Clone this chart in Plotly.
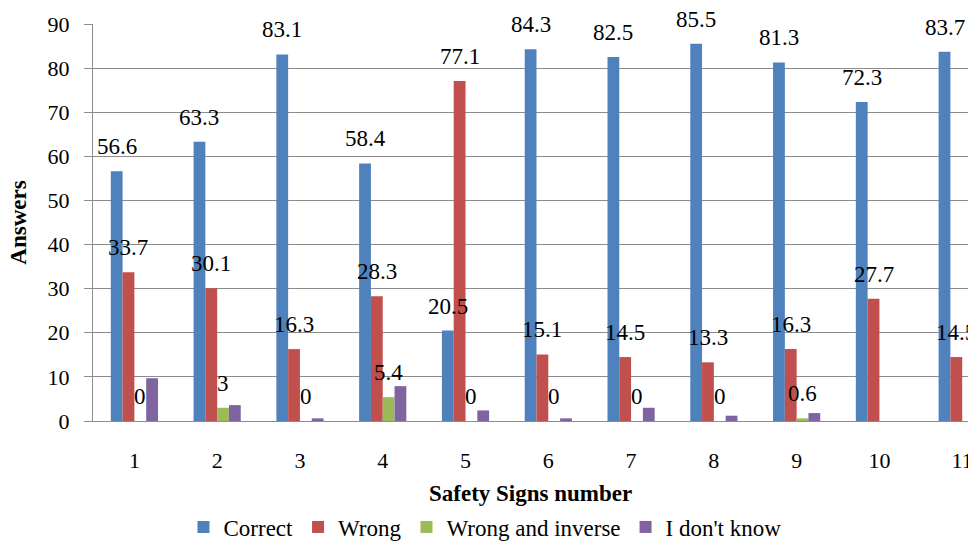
import plotly.graph_objects as go

categories = [1, 2, 3, 4, 5, 6, 7, 8, 9, 10, 11]
tick_labels = ["1", "2", "3", "4", "5", "6", "7", "8", "9", "10", "11"]
correct = [56.6, 63.3, 83.1, 58.4, 20.5, 84.3, 82.5, 85.5, 81.3, 72.3, 83.7]
wrong = [33.7, 30.1, 16.3, 28.3, 77.1, 15.1, 14.5, 13.3, 16.3, 27.7, 14.5]
wrong_inverse = [0, 3, 0, 5.4, 0, 0, 0, 0, 0.6, None, 0]
dont_know = [9.7, 3.6, 0.6, 7.9, 2.4, 0.6, 3.0, 1.2, 1.8, None, 1.8]

series_names = ["Correct", "Wrong", "Wrong and inverse", "I don't know"]
series_values = [correct, wrong, wrong_inverse, dont_know]
series_colors = ["#4F81BD", "#C0504D", "#9BBB59", "#8064A2"]
labelled = [True, True, True, False]

FONT = "Times New Roman, Liberation Serif, serif"
bargap = 0.43

fig = go.Figure()
for name, vals, col in zip(series_names, series_values, series_colors):
    fig.add_trace(go.Bar(x=categories, y=vals, name=name, marker_color=col,
                         marker_line_width=0))

w = (1 - bargap) / len(series_names)
for k, (vals, lab) in enumerate(zip(series_values, labelled)):
    if not lab:
        continue
    for c, v in zip(categories, vals):
        if v is None:
            continue
        fig.add_annotation(x=c + (k - 1.5) * w, y=v, text=f"{v:g}", showarrow=False,
                           xanchor="center", yanchor="bottom", yshift=10,
                           font=dict(family=FONT, size=23, color="#000"))

# x-axis title
fig.add_annotation(xref="paper", yref="paper", x=0.5, y=0, yshift=-72,
                   text="<b>Safety Signs number</b>", showarrow=False,
                   xanchor="center", yanchor="middle",
                   font=dict(family=FONT, size=23, color="#000"))

fig.update_layout(
    width=968, height=541,
    margin=dict(l=93, r=0, t=24, b=120, autoexpand=False),
    paper_bgcolor="white", plot_bgcolor="white",
    barmode="group", bargap=bargap, bargroupgap=0,
    font=dict(family=FONT, size=22, color="#000"),
    legend=dict(orientation="h", xref="container", x=0.501, xanchor="center",
                yref="paper", y=-0.267, yanchor="middle",
                font=dict(family=FONT, size=23), itemwidth=30, tracegroupgap=0),
    xaxis=dict(range=[0.5, 11.07], tickmode="array", tickvals=categories,
               ticktext=tick_labels, showgrid=False, showline=True,
               linecolor="#8c8c8c", linewidth=1, ticks="", zeroline=False,
               ticklabelstandoff=20, automargin=False, ticklabeloverflow="allow",
               tickfont=dict(family=FONT, size=22)),
    yaxis=dict(range=[0, 90], dtick=10, showgrid=True, gridcolor="#8c8c8c",
               gridwidth=1, showline=True, linecolor="#8c8c8c", linewidth=1,
               ticks="outside", ticklen=8, tickcolor="#8c8c8c", zeroline=False,
               ticklabelstandoff=10, automargin=False,
               tickfont=dict(family=FONT, size=22),
               title=dict(text="<b>Answers</b>", standoff=14,
                          font=dict(family=FONT, size=23))),
)

fig.write_html("out.html", config={"displayModeBar": False},
               post_script="document.body.style.margin='0';")
